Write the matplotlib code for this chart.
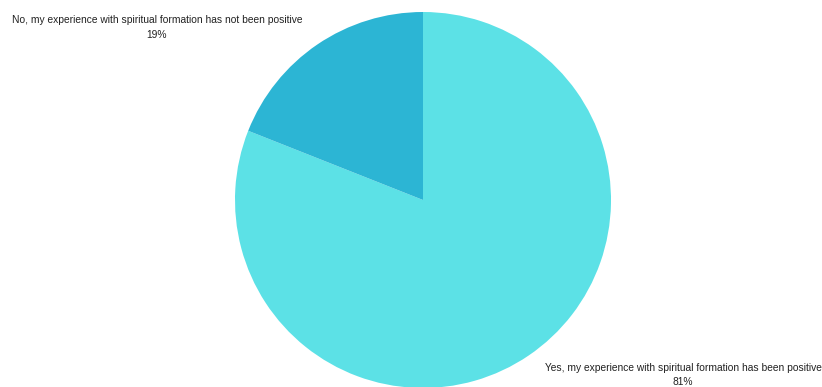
import matplotlib.pyplot as plt

plt.rcParams['font.family'] = ['Liberation Sans', 'DejaVu Sans']

labels = ['Yes, my experience with spiritual formation has been positive',
          'No, my experience with spiritual formation has not been positive']
shares = [81, 19]
colors = ['#5ce1e6', '#2cb5d4']

W, H = 822, 387
fig = plt.figure(figsize=(W / 100, H / 100), dpi=100)
ax = fig.add_axes([0, 0, 1, 1])
ax.set_aspect('equal')
ax.axis('off')

ax.pie(shares, colors=colors, startangle=90, counterclock=False,
       center=(423, H - 200), radius=188,
       wedgeprops=dict(linewidth=0))
ax.set_xlim(0, W)
ax.set_ylim(0, H)

# label boxes: text line + percentage underneath
label_pos = [(683, H - 375), (157, H - 27.5)]
for lab, val, (x, y) in zip(labels, shares, label_pos):
    ax.text(x, y, f'{lab}\n{val}%', ha='center', va='center',
            fontsize=7.4, color='#222222', linespacing=1.6)

fig.savefig('out.png', dpi=100)
